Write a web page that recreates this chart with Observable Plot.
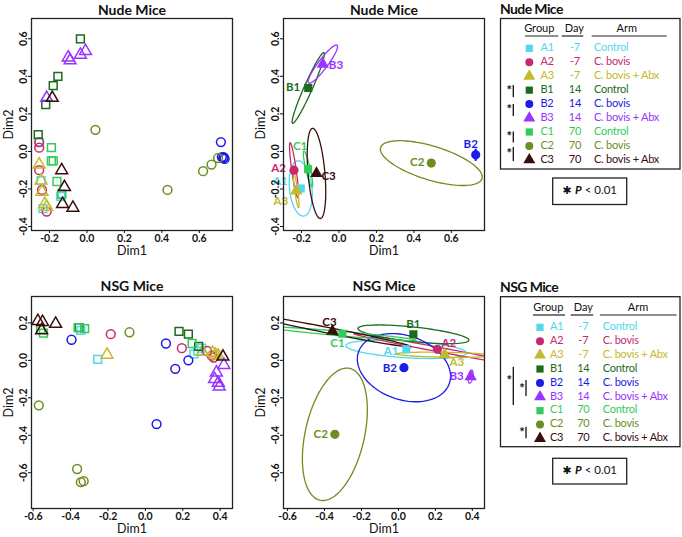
<!DOCTYPE html>
<html><head><meta charset="utf-8">
<script src="https://cdn.jsdelivr.net/npm/d3@7"></script>
<script src="https://cdn.jsdelivr.net/npm/@observablehq/plot@0.6"></script>
<style>
body{margin:0;background:#fff;}
#root{position:relative;width:682px;height:537px;overflow:hidden;font-family:Lato,"Open Sans",sans-serif;}
#root svg{position:absolute;}
</style></head><body><div id="root"></div>
<script>
// ---------- categories ----------
const groups = ["A1","A2","A3","B1","B2","B3","C1","C2","C3"];
const days   = ["-7","-7","-7","14","14","14","70","70","70"];
const arms   = ["Control","C. bovis","C. bovis + Abx","Control","C. bovis","C. bovis + Abx","Control","C. bovis","C. bovis + Abx"];
const colors = ["#52d8ec","#c8286e","#c4b92c","#1d6b1d","#1c1ce6","#9933ff","#33cc5a","#6b8e1e","#3a0d0d"];
const shapes = [d3.symbolSquare,d3.symbolCircle,d3.symbolTriangle,d3.symbolSquare,d3.symbolCircle,d3.symbolTriangle,d3.symbolSquare,d3.symbolCircle,d3.symbolTriangle];

// ---------- Nude mice: individual samples [Dim1, Dim2] ----------
const nudeA1 = [[-0.255,0.05],[-0.245,-0.155],[-0.135,-0.225],[-0.14,-0.24],[-0.235,-0.305]];
const nudeA2 = [[-0.255,0.05],[-0.255,0.02],[-0.255,-0.10],[-0.24,-0.205],[-0.215,-0.32]];
const nudeA3 = [[-0.255,-0.07],[-0.245,-0.155],[-0.24,-0.215],[-0.225,-0.28],[-0.215,-0.295]];
const nudeB1 = [[-0.035,0.60],[-0.155,0.40],[-0.18,0.35],[-0.22,0.25],[-0.26,0.09]];
const nudeB2 = [[0.715,0.05],[0.72,-0.03],[0.728,-0.035],[0.735,-0.04],[0.73,-0.03]];
const nudeB3 = [[-0.10,0.50],[-0.09,0.485],[-0.035,0.515],[-0.008,0.535],[-0.215,0.285]];
const nudeC1 = [[-0.19,0.02],[-0.19,-0.05],[-0.18,-0.05],[-0.16,-0.16],[-0.135,-0.23]];
const nudeC2 = [[0.045,0.115],[0.43,-0.205],[0.62,-0.105],[0.665,-0.07],[0.70,-0.035]];
const nudeC3 = [[-0.185,0.285],[-0.135,-0.10],[-0.12,-0.19],[-0.13,-0.28],[-0.075,-0.30]];

// ---------- NSG mice: individual samples ----------
const nsgA1 = [[-0.345,0.16],[-0.255,0.005],[0.26,0.035],[0.30,0.065],[0.28,0.05]];
const nsgA2 = [[-0.185,0.14],[0.195,0.065],[0.33,0.05],[0.365,0.015],[0.355,0.025]];
const nsgA3 = [[-0.205,0.03],[0.305,0.045],[0.36,0.04],[0.375,0.03],[0.39,0.025]];
const nsgB1 = [[-0.355,0.175],[0.18,0.155],[0.23,0.14],[0.285,0.075]];
const nsgB2 = [[-0.395,0.11],[0.11,0.09],[0.16,-0.045],[0.23,0.0],[0.06,-0.34]];
const nsgB3 = [[0.38,-0.065],[0.37,-0.10],[0.39,-0.12],[0.395,-0.14],[0.42,-0.025]];
const nsgC1 = [[-0.56,0.165],[-0.545,0.145],[-0.36,0.175],[-0.325,0.17],[0.25,0.09]];
const nsgC2 = [[-0.085,0.15],[-0.57,-0.24],[-0.365,-0.58],[-0.345,-0.65],[-0.33,-0.645]];
const nsgC3 = [[-0.575,0.21],[-0.55,0.205],[-0.555,0.16],[-0.48,0.195],[0.415,0.02]];

// ---------- group centroids (order of groups) ----------
const nudeCentX = [-0.204,-0.24,-0.228,-0.164,0.73,-0.086,-0.165,0.493,-0.12];
const nudeCentY = [-0.197,-0.10,-0.21,0.338,-0.018,0.465,-0.094,-0.062,-0.117];
const nsgCentX  = [0.043,0.211,0.25,0.081,0.03,0.391,-0.303,-0.344,-0.357];
const nsgCentY  = [0.059,0.059,0.03,0.139,-0.039,-0.087,0.142,-0.395,0.156];

// ---------- ellipses: semi-axes and angle (deg) ----------
const nudeEllA   = [0.148,0.148,0.09,0.206,0.03,0.126,0.098,0.283,0.241];
const nudeEllB   = [0.06,0.012,0.008,0.022,0.006,0.025,0.012,0.09,0.045];
const nudeEllAng = [96,98,98,66,90,53,103,-17,95];
const nsgEllA    = [0.327,0.46,0.26,0.302,0.26,0.035,0.40,0.361,0.432];
const nsgEllB    = [0.045,0.012,0.013,0.039,0.171,0.012,0.012,0.16,0.015];
const nsgEllAng  = [-3.5,-10.5,-1,-6,-18.7,80,-5,77,-11];

// ---------- ticks ----------
const nudeXTicks = [-0.2,0,0.2,0.4,0.6];
const nudeYTicks = [-0.4,-0.2,0,0.2,0.4,0.6];
const nsgXTicks  = [-0.6,-0.4,-0.2,0,0.2,0.4];
const nsgYTicks  = [-0.6,-0.4,-0.2,0,0.2];

// ---------- layout / style config ----------
const nudeLabelOff = {A1:["end",-13,-7],A2:["end",-8,-2],A3:["end",-8,10],B1:["end",-8,-1],B2:["middle",-5,-11],B3:["start",6,1],C1:["middle",-8,-23],C2:["end",-7,-1],C3:["start",5,3]};
const nsgLabelOff  = {A1:["end",-8,2],A2:["start",4,-6],A3:["start",5,8],B1:["middle",0,-10],B2:["end",-7,1],B3:["end",-7,0],C1:["middle",-5,10],C2:["end",-7,0],C3:["middle",-3,-9]};

const root = document.getElementById("root");
const fmt = d => d.toFixed(1);
const FONT = "Lato, 'Open Sans', sans-serif";

function rowsOf(sets){ const out=[]; groups.forEach((g,i)=>sets[i].forEach(p=>out.push({g,x:p[0],y:p[1]}))); return out; }
function centOf(cx,cy){ return groups.map((g,i)=>({g,x:cx[i],y:cy[i]})); }
function ellOf(cx,cy,A,B,ang){
  const out=[];
  groups.forEach((g,i)=>{ const th=ang[i]*Math.PI/180;
    for(let k=0;k<=90;k++){ const t=k/90*2*Math.PI;
      out.push({g, x: cx[i]+A[i]*Math.cos(t)*Math.cos(th)-B[i]*Math.sin(t)*Math.sin(th),
                   y: cy[i]+A[i]*Math.cos(t)*Math.sin(th)+B[i]*Math.sin(t)*Math.cos(th)}); } });
  return out;
}

function panel({left, top, xDomain, yDomain, xTicks, yTicks, title, titleDy, marks}){
  const svg = Plot.plot({
    width:240, height:262, marginLeft:31, marginRight:8, marginTop:18, marginBottom:32,
    x:{domain:xDomain}, y:{domain:yDomain},
    color:{domain:groups, range:colors},
    symbol:{domain:groups, range:shapes},
    style:{fontFamily:FONT, fontSize:"10px", color:"#111", background:"none", overflow:"visible"},
    marks:[
      ...marks,
      Plot.frame({stroke:"#222", strokeWidth:1.3}),
      Plot.axisX({ticks:xTicks, tickSize:3, tickPadding:1, tickFormat:fmt, label:null, fontSize:10.5, fontWeight:"bold"}),
      Plot.axisY({ticks:yTicks, tickSize:3, tickPadding:2, tickRotate:-90, tickFormat:fmt, label:null, fontSize:10.5, fontWeight:"bold"}),
      Plot.text([title], {text:d=>d, frameAnchor:"top", lineAnchor:"middle", dy:titleDy, fontSize:14, fontWeight:"bold", letterSpacing:"-0.6px", fill:"#111"}),
      Plot.text(["Dim1"], {text:d=>d, frameAnchor:"bottom", lineAnchor:"middle", dy:20, fontSize:12.5, fill:"#111"}),
      Plot.text(["Dim2"], {text:d=>d, frameAnchor:"left", textAnchor:"middle", lineAnchor:"middle", dx:-23, rotate:-90, fontSize:12.5, fill:"#111"})
    ]
  });
  svg.style.left = left+"px"; svg.style.top = top+"px";
  root.appendChild(svg);
}

function scatterMarks(rows){
  return [Plot.dot(rows, {x:"x", y:"y", symbol:"g", stroke:"g", r:4.4, strokeWidth:1.5, fill:"none"})];
}
function ellipseMarks(ell, cents, offs){
  const m = [Plot.line(ell, {x:"x", y:"y", z:"g", stroke:"g", strokeWidth:1.3, clip:true})];
  m.push(Plot.dot(cents, {x:"x", y:"y", symbol:"g", fill:"g", r:4.6}));
  cents.forEach(c=>{ const o=offs[c.g];
    m.push(Plot.text([c], {x:"x", y:"y", text:"g", fill:"g", textAnchor:o[0], dx:o[1], dy:o[2], fontSize:11.5, fontWeight:"bold"}));
  });
  return m;
}

const nudeXDom=[-0.296,0.777], nudeYDom=[-0.421,0.708];
const nsgXDomL=[-0.609,0.466], nsgXDomM=[-0.622,0.466], nsgYDom=[-0.791,0.341];

panel({left:0, top:0, xDomain:nudeXDom, yDomain:nudeYDom, xTicks:nudeXTicks, yTicks:nudeYTicks, title:"Nude Mice", titleDy:-8,
  marks:scatterMarks(rowsOf([nudeA1,nudeA2,nudeA3,nudeB1,nudeB2,nudeB3,nudeC1,nudeC2,nudeC3]))});
panel({left:252, top:0, xDomain:nudeXDom, yDomain:nudeYDom, xTicks:nudeXTicks, yTicks:nudeYTicks, title:"Nude Mice", titleDy:-8,
  marks:ellipseMarks(ellOf(nudeCentX,nudeCentY,nudeEllA,nudeEllB,nudeEllAng), centOf(nudeCentX,nudeCentY), nudeLabelOff)});
panel({left:0, top:278, xDomain:nsgXDomL, yDomain:nsgYDom, xTicks:nsgXTicks, yTicks:nsgYTicks, title:"NSG Mice", titleDy:-10,
  marks:scatterMarks(rowsOf([nsgA1,nsgA2,nsgA3,nsgB1,nsgB2,nsgB3,nsgC1,nsgC2,nsgC3]))});
panel({left:252, top:278, xDomain:nsgXDomM, yDomain:nsgYDom, xTicks:nsgXTicks, yTicks:nsgYTicks, title:"NSG Mice", titleDy:-10,
  marks:ellipseMarks(ellOf(nsgCentX,nsgCentY,nsgEllA,nsgEllB,nsgEllAng), centOf(nsgCentX,nsgCentY), nsgLabelOff)});

// ---------- legends ----------
const L = d3.select(root).append("svg").attr("width",682).attr("height",537).style("left","0px").style("top","0px")
  .style("font-family",FONT);
function legend(c){
  L.append("text").attr("x",c.tx).attr("y",c.ty).attr("font-size",14).attr("font-weight","bold").attr("letter-spacing","-0.6px")
    .attr("dominant-baseline","middle").attr("fill","#111").text(c.title);
  L.append("rect").attr("x",c.box[0]).attr("y",c.box[1]).attr("width",c.box[2]-c.box[0]).attr("height",c.box[3]-c.box[1])
    .attr("fill","none").attr("stroke","#222").attr("stroke-width",1.3);
  const hdr=["Group","Day","Arm"];
  hdr.forEach((h,i)=>{
    L.append("text").attr("x",c.hx[i]).attr("y",c.hy).attr("text-anchor","middle").attr("dominant-baseline","middle")
      .attr("font-size",11).attr("fill","#111").text(h);
    L.append("line").attr("x1",c.ul[i][0]).attr("x2",c.ul[i][1]).attr("y1",c.uy).attr("y2",c.uy).attr("stroke","#222").attr("stroke-width",1.2);
  });
  groups.forEach((g,i)=>{
    const y=c.ry0+i*c.rstep;
    L.append("path").attr("transform",`translate(${c.sx},${y})`).attr("d",d3.symbol(shapes[i], shapes[i]===d3.symbolTriangle?62:shapes[i]===d3.symbolCircle?50:52)()).attr("fill",colors[i]);
    const t = (x, s, anchor) => L.append("text").attr("x",x).attr("y",y).attr("text-anchor",anchor).attr("dominant-baseline","middle")
      .attr("font-size",11).attr("letter-spacing","-0.25px").attr("fill",colors[i]).text(s);
    t(c.gx, g, "start"); t(c.dx, days[i], "middle"); t(c.ax, arms[i], "start");
  });
  c.brackets.forEach(b=>{
    L.append("line").attr("x1",b.x).attr("x2",b.x).attr("y1",b.y1).attr("y2",b.y2).attr("stroke","#111").attr("stroke-width",1.3);
    L.append("text").attr("x",b.x-4).attr("y",b.ay+4).attr("text-anchor","middle").attr("font-size",13).attr("font-weight","bold").attr("fill","#111").text("*");
  });
  L.append("rect").attr("x",c.pbox[0]).attr("y",c.pbox[1]).attr("width",c.pbox[2]-c.pbox[0]).attr("height",c.pbox[3]-c.pbox[1])
    .attr("fill","none").attr("stroke","#222").attr("stroke-width",1.3);
  const pt = L.append("text").attr("x",(c.pbox[0]+c.pbox[2])/2).attr("y",(c.pbox[1]+c.pbox[3])/2).attr("text-anchor","middle")
    .attr("dominant-baseline","middle").attr("font-size",11.5).attr("fill","#111");
  pt.append("tspan").attr("font-family","DejaVu Sans").attr("font-size",11).text("✱  ");
  pt.append("tspan").attr("font-style","italic").attr("font-weight","bold").text("P");
  pt.append("tspan").text(" < 0.01");
}
legend({title:"Nude Mice", tx:500, ty:10, box:[500.5,18.5,680,169],
  hx:[539.3,574.3,626.7], hy:29.5, uy:36, ul:[[525,558.3],[561.7,583.3],[591.7,666.7]],
  ry0:48.3, rstep:13.95, sx:529.3, gx:540.5, dx:575, ax:594,
  brackets:[{x:513.3,y1:85,y2:97,ay:91},{x:513.3,y1:104,y2:116,ay:110},{x:513.3,y1:131.5,y2:142.5,ay:137},{x:513.3,y1:147,y2:161,ay:154}],
  pbox:[552.7,178,626.7,204.5]});
legend({title:"NSG Mice", tx:500, ty:288.5, box:[500.5,296.7,680,446.7],
  hx:[548.3,583.3,638], hy:308.3, uy:315, ul:[[533,565],[570.7,593.3],[600,676.7]],
  ry0:327.3, rstep:13.9, sx:540, gx:550, dx:583.3, ax:602.7,
  brackets:[{x:513.3,y1:366.7,y2:405,ay:380.7},{x:526,y1:380,y2:396,ay:389.3},{x:526,y1:426.7,y2:438.3,ay:432.7}],
  pbox:[552.7,458.3,626.7,484]});
</script></body></html>
